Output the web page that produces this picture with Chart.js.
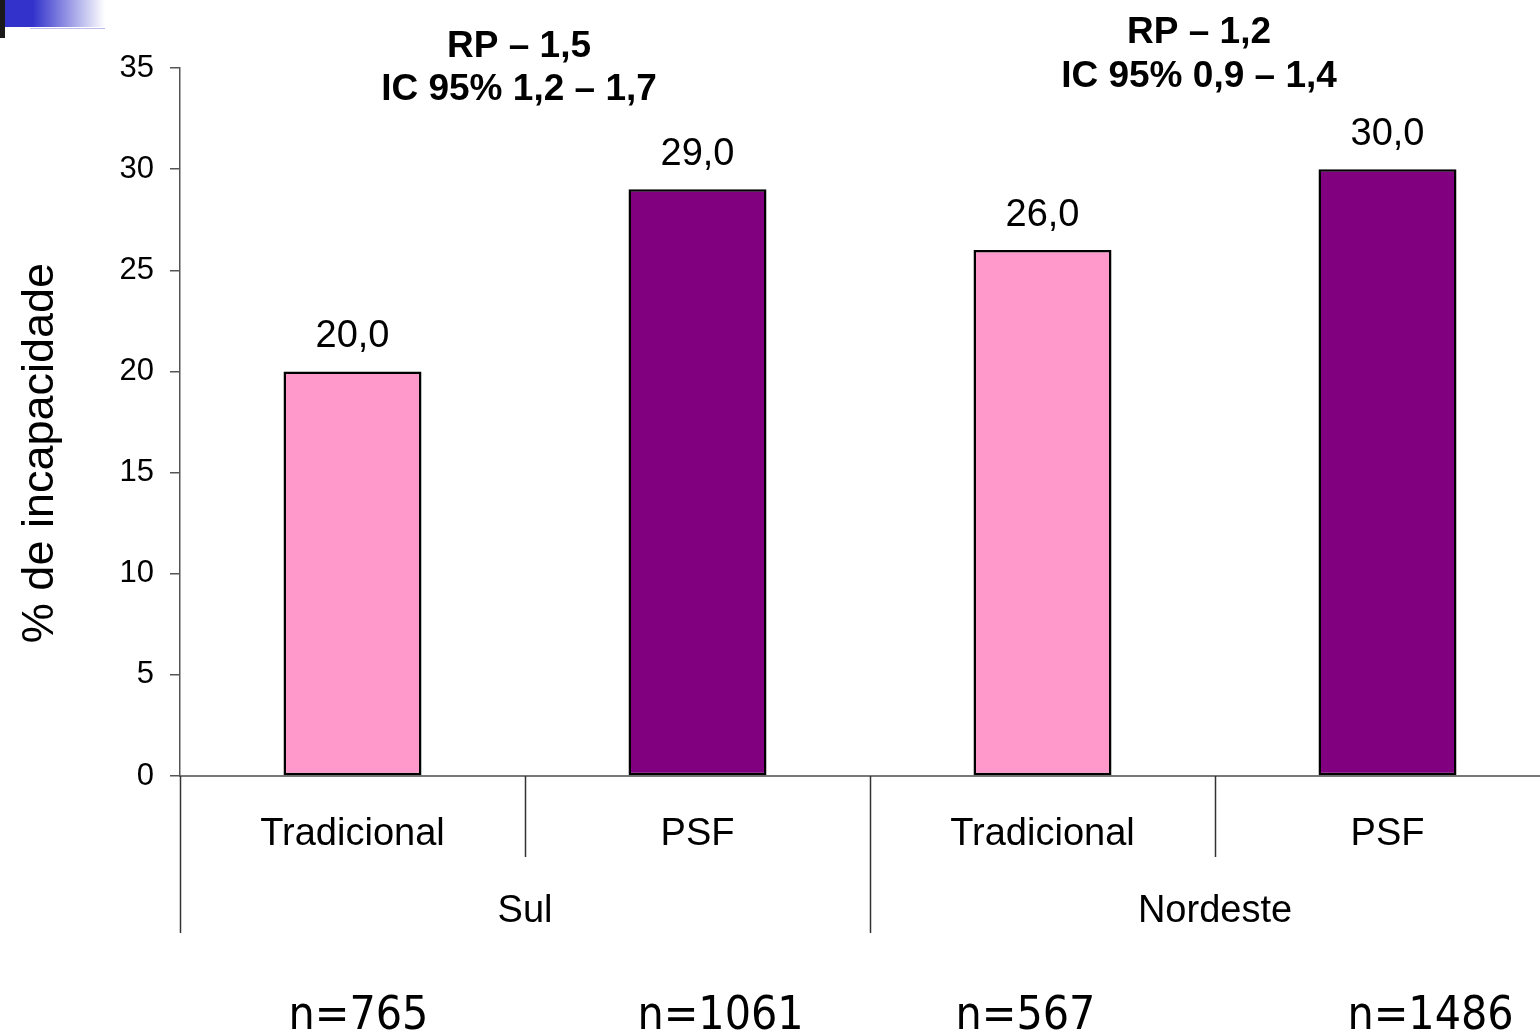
<!DOCTYPE html>
<html>
<head>
<meta charset="utf-8">
<script src="https://cdn.jsdelivr.net/npm/chart.js@4.4.1/dist/chart.umd.min.js"></script>
<style>
html,body{margin:0;padding:0;background:#fff;overflow:hidden;}
#wrap{position:absolute;left:0;top:0;width:1560px;height:1033px;}
</style>
</head>
<body>
<div id="wrap"><canvas id="c" width="1560" height="1033"></canvas></div>
<script>
// ---- data ----
const categories = ['Tradicional', 'PSF', 'Tradicional', 'PSF'];
const groups = ['Sul', 'Nordeste'];
const values = [20.0, 29.0, 26.0, 30.0];
const sampleSizes = ['n=765', 'n=1061', 'n=567', 'n=1486'];
const annotations = [
  ['RP \u2013 1,5', 'IC 95% 1,2 \u2013 1,7'],
  ['RP \u2013 1,2', 'IC 95% 0,9 \u2013 1,4']
];
const yTitle = '% de incapacidade';
const yTicks = [0, 5, 10, 15, 20, 25, 30, 35];

const PINK = '#FF99CC';
const PURPLE = '#800080';
const barColors = [PINK, PURPLE, PINK, PURPLE];

const SANS = '"Liberation Sans", Arial, sans-serif';

const decor = {
  id: 'decor',
  afterDraw(chart) {
    const ctx = chart.ctx;
    const xs = chart.scales.x;
    const ys = chart.scales.y;
    const base = ys.getPixelForValue(0);
    ctx.save();

    // corner decoration
    const g = ctx.createLinearGradient(5, 0, 105, 0);
    g.addColorStop(0, '#3333CC');
    g.addColorStop(0.28, '#3333CC');
    g.addColorStop(1, 'rgba(255,255,255,1)');
    ctx.fillStyle = g;
    ctx.fillRect(5, 0, 100, 27);
    ctx.fillStyle = '#1a1a1a';
    ctx.fillRect(0, 0, 5, 38);
    ctx.strokeStyle = 'rgba(120,120,220,0.5)';
    ctx.lineWidth = 1;
    ctx.beginPath(); ctx.moveTo(30, 28.5); ctx.lineTo(105, 28.5); ctx.stroke();

    const n = categories.length;
    const centers = categories.map((_, i) => xs.getPixelForValue(i));
    const step = n > 1 ? centers[1] - centers[0] : xs.width;
    const bounds = [];
    for (let i = 0; i <= n; i++) bounds.push(xs.left + i * step);

    // separators
    ctx.strokeStyle = '#333';
    ctx.lineWidth = 1.5;
    for (let i = 0; i < n; i++) {
      const x = Math.round(bounds[i]) + 0.5;
      const long = (i % 2 === 0);
      ctx.beginPath();
      ctx.moveTo(x, base);
      ctx.lineTo(x, long ? 933 : 857);
      ctx.stroke();
    }

    // category labels
    ctx.fillStyle = '#000';
    ctx.textAlign = 'center';
    ctx.textBaseline = 'alphabetic';
    ctx.font = '38px ' + SANS;
    categories.forEach((c, i) => ctx.fillText(c, centers[i], 845));

    // group labels
    groups.forEach((gname, gi) => {
      const cx = bounds[gi * 2 + 1];
      ctx.fillText(gname, cx, 922);
    });

    // data labels
    const meta = chart.getDatasetMeta(0);
    meta.data.forEach((bar, i) => {
      const txt = values[i].toFixed(1).replace('.', ',');
      ctx.fillText(txt, bar.x, bar.y - 24);
    });

    // annotations
    ctx.font = 'bold 37px ' + SANS;
    const annOff = [-6, -16];
    const annBase = [[57, 100], [43, 87]];
    annotations.forEach((lines, gi) => {
      const cx = bounds[gi * 2 + 1] + annOff[gi];
      lines.forEach((l, li) => ctx.fillText(l, cx, annBase[gi][li]));
    });

    // sample sizes
    ctx.font = '46px "DejaVu Sans Condensed", "DejaVu Sans", sans-serif';
    const nOff = [6, 23, -17, 43];
    sampleSizes.forEach((s, i) => ctx.fillText(s, centers[i] + nOff[i], 1029));

    // y title
    ctx.font = '45px ' + SANS;
    ctx.translate(53, 453);
    ctx.rotate(-Math.PI / 2);
    ctx.fillText(yTitle, 0, 0);

    ctx.restore();
  }
};

new Chart(document.getElementById('c'), {
  type: 'bar',
  data: {
    labels: categories,
    datasets: [{
      data: values,
      backgroundColor: barColors,
      borderColor: '#000',
      borderWidth: 2.5,
      borderSkipped: false,
      barPercentage: 0.4,
      categoryPercentage: 1.0
    }]
  },
  options: {
    responsive: false,
    animation: false,
    devicePixelRatio: 1,
    layout: { padding: { top: 68, left: 0, right: 0, bottom: 0 } },
    plugins: { legend: { display: false }, tooltip: { enabled: false } },
    scales: {
      x: {
        grid: { display: false },
        ticks: { display: false },
        border: { display: true, color: '#777', width: 2 },
        afterFit(s) { s.height = 257; }
      },
      y: {
        min: 0,
        max: 35,
        afterBuildTicks(s) { s.ticks = yTicks.map(v => ({ value: v })); },
        ticks: {
          font: { family: SANS, size: 31 },
          color: '#000',
          padding: 16
        },
        grid: { display: true, drawOnChartArea: false, drawTicks: true, tickLength: 10, color: '#555', lineWidth: 1.5 },
        border: { display: true, color: '#555', width: 1.5 },
        afterFit(s) { s.width = 180; }
      }
    }
  },
  plugins: [decor]
});
</script>
</body>
</html>
